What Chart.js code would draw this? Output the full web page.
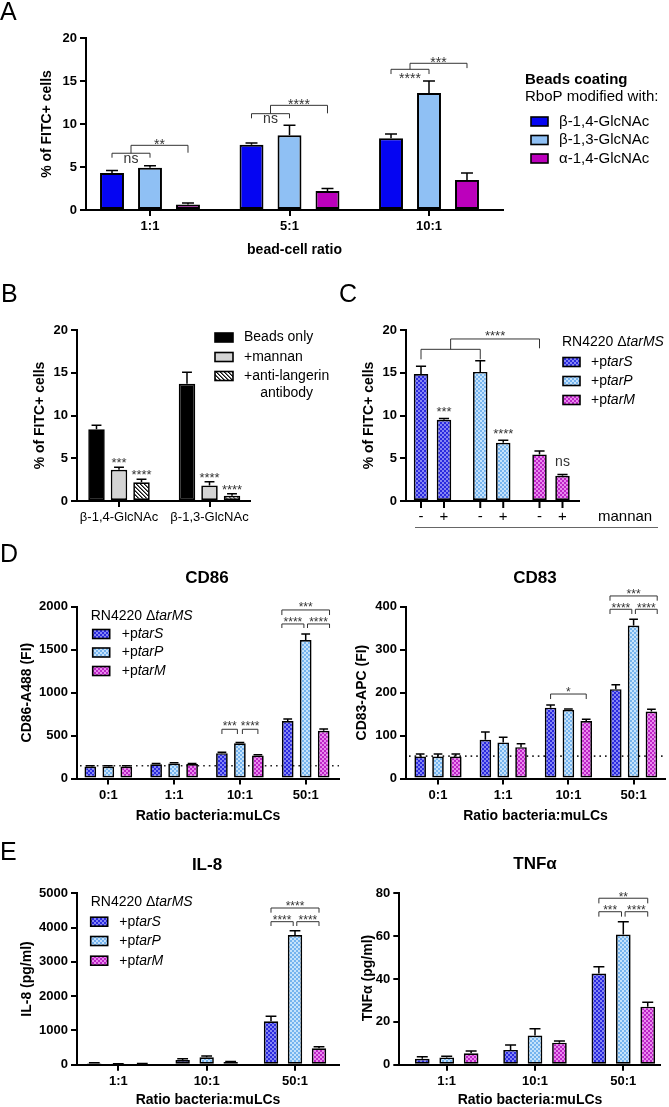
<!DOCTYPE html>
<html><head><meta charset="utf-8">
<script src="https://cdn.jsdelivr.net/npm/chart.js@4.4.1/dist/chart.umd.min.js"></script>
<style>
html,body{margin:0;padding:0;background:#fff;}
#page{position:relative;width:669px;height:1107px;overflow:hidden;background:#fff;}
#page canvas{position:absolute;left:0;top:0;}
</style></head><body><div id="page"></div>
<script>
// ================= DATA =================
// Panel A
const A_ratios = ['1:1', '5:1', '10:1'];
const A_beta14 = [4.3, 7.6, 8.35];
const A_beta14_err = [0.3, 0.2, 0.5];
const A_beta13 = [4.9, 8.7, 13.6];
const A_beta13_err = [0.25, 1.15, 1.4];
const A_alpha14 = [0.65, 2.2, 3.5];
const A_alpha14_err = [0.15, 0.3, 0.8];
const A_legend = ['β-1,4-GlcNAc', 'β-1,3-GlcNAc', 'α-1,4-GlcNAc'];

// Panel B
const B_coatings = ['β-1,4-GlcNAc', 'β-1,3-GlcNAc'];
const B_beadsOnly = [8.4, 13.7];
const B_beadsOnly_err = [0.45, 1.35];
const B_mannan = [3.65, 1.8];
const B_mannan_err = [0.3, 0.45];
const B_antiLangerin = [2.2, 0.6];
const B_antiLangerin_err = [0.35, 0.25];
const B_stars = [['***', '****'], ['****', '****']]; // [group][mannan, anti-langerin]

// Panel C
const C_strains = ['tarS', 'tarP', 'tarM'];
const C_noMannan = [14.85, 15.1, 5.45];
const C_noMannan_err = [0.9, 1.3, 0.4];
const C_withMannan = [9.5, 6.8, 2.95];
const C_withMannan_err = [0.15, 0.3, 0.15];
const C_withMannan_sig = ['***', '****', 'ns'];
const C_mannanLabels = ['-', '+'];

// Panel D
const D_ratios = ['0:1', '1:1', '10:1', '50:1'];
const CD86_tarS = [140, 165, 295, 670];
const CD86_tarS_err = [8, 10, 10, 22];
const CD86_tarP = [140, 175, 410, 1612];
const CD86_tarP_err = [8, 8, 10, 70];
const CD86_tarM = [140, 168, 268, 555];
const CD86_tarM_err = [8, 8, 8, 20];
const CD86_baseline = 148;

const CD83_tarS = [51, 90, 165, 208];
const CD83_tarS_err = [6, 18, 6, 10];
const CD83_tarP = [51, 84, 160, 356];
const CD83_tarP_err = [6, 12, 2, 15];
const CD83_tarM = [51, 73, 134, 156];
const CD83_tarM_err = [6, 8, 4, 5];
const CD83_baseline = 52;

// Panel E
const E_ratios = ['1:1', '10:1', '50:1'];
const IL8_tarS = [40, 137, 1266];
const IL8_tarS_err = [20, 38, 150];
const IL8_tarP = [15, 216, 3784];
const IL8_tarP_err = [10, 38, 125];
const IL8_tarM = [25, 79, 478];
const IL8_tarM_err = [10, 15, 47];

const TNF_tarS = [2.8, 6.9, 42.6];
const TNF_tarS_err = [0.9, 2.3, 3.1];
const TNF_tarP = [3.4, 13.6, 60.8];
const TNF_tarP_err = [0.6, 3.2, 5.9];
const TNF_tarM = [5.3, 10.3, 27.1];
const TNF_tarM_err = [1.1, 0.8, 2.0];

// ================= RENDERING =================
const W = 669, H = 1107;
const FONT = "'Liberation Sans', Arial, sans-serif";
Chart.defaults.font.family = FONT;
Chart.defaults.color = '#000';
Chart.defaults.animation = false;
Chart.defaults.plugins.legend.display = false;
Chart.defaults.plugins.tooltip.enabled = false;

function makePatterns(ctx) {
  function checker(c1, c2) {
    const t = document.createElement('canvas'); t.width = 4; t.height = 4;
    const g = t.getContext('2d');
    g.fillStyle = c1; g.fillRect(0, 0, 4, 4);
    g.fillStyle = c2; g.fillRect(0, 0, 2, 2); g.fillRect(2, 2, 2, 2);
    return ctx.createPattern(t, 'repeat');
  }
  function hatch() {
    const s = 4;
    const t = document.createElement('canvas'); t.width = s; t.height = s;
    const g = t.getContext('2d');
    g.fillStyle = '#fff'; g.fillRect(0, 0, s, s);
    g.fillStyle = '#111';
    for (let i = 0; i < s; i++) { g.fillRect(i, i, 1, 1); g.fillRect((i + 1) % s, i, 0.6, 1); }
    return ctx.createPattern(t, 'repeat');
  }
  return {
    S: checker('#2a2ade', '#8585f3'),
    P: checker('#76b4ee', '#c6e3fb'),
    M: checker('#bd25c6', '#e98aee'),
    H: hatch()
  };
}

function txt(ctx, s, x, y, o = {}) {
  ctx.save();
  ctx.font = `${o.style || 'normal'} ${o.weight || 'normal'} ${o.size || 14}px ${FONT}`;
  ctx.fillStyle = o.color || '#000';
  ctx.textAlign = o.align || 'left';
  ctx.textBaseline = o.baseline || 'middle';
  ctx.fillText(s, x, y);
  ctx.restore();
}
function vtxt(ctx, s, cx, cy, size) {
  ctx.save();
  ctx.translate(cx, cy); ctx.rotate(-Math.PI / 2);
  ctx.font = `bold ${size}px ${FONT}`;
  ctx.fillStyle = '#000'; ctx.textAlign = 'center'; ctx.textBaseline = 'middle';
  ctx.fillText(s, 0, 0);
  ctx.restore();
}
function rich(ctx, parts, x, y, size) {
  ctx.save();
  let cx = x;
  ctx.textAlign = 'left'; ctx.textBaseline = 'middle'; ctx.fillStyle = '#000';
  parts.forEach(([t, it]) => {
    ctx.font = `${it ? 'italic ' : 'normal '}normal ${size}px ${FONT}`;
    ctx.fillText(t, cx, y);
    cx += ctx.measureText(t).width;
  });
  ctx.restore();
}
function starText(ctx, s, cx, cy, size) {
  if (!s) return;
  ctx.save();
  ctx.fillStyle = '#333';
  ctx.textAlign = 'center';
  if (s === 'ns') {
    ctx.font = `14px ${FONT}`; ctx.textBaseline = 'middle';
    ctx.fillText(s, cx, cy);
  } else {
    ctx.font = `${size}px ${FONT}`; ctx.textBaseline = 'alphabetic';
    ctx.fillText(s, cx, cy + 0.57 * size);
  }
  ctx.restore();
}
function swatch(ctx, fill, x, cy, w, h) {
  ctx.save();
  ctx.fillStyle = fill; ctx.fillRect(x, cy - h / 2, w, h);
  ctx.strokeStyle = '#000'; ctx.lineWidth = 1.6; ctx.strokeRect(x, cy - h / 2, w, h);
  ctx.restore();
}
function strainLegend(ctx, pats, x, headY, rows, swX, textX) {
  rich(ctx, [['RN4220 Δ', false], ['tarMS', true]], x, headY, 14);
  const fills = [pats.S, pats.P, pats.M];
  ['tarS', 'tarP', 'tarM'].forEach((s, i) => {
    swatch(ctx, fills[i], swX, rows[i], 17, 9);
    rich(ctx, [['+p', false], [s, true]], textX, rows[i], 14);
  });
}
function barX(chart, ds, g) { return chart.getDatasetMeta(ds).data[g].x; }
function barHalf(chart, ds, g) { return chart.getDatasetMeta(ds).data[g].width / 2; }

// bracket endpoint: number = dataset index in bracket's group; {ds,g,dx,edge}; {mid:k}
function drawBrackets(chart, list, starSize) {
  const ctx = chart.ctx, ys = chart.scales.y;
  const xs = [];
  const endX = (e, g) => {
    if (typeof e === 'number') return barX(chart, e, g);
    if (e.mid !== undefined) return (xs[e.mid][0] + xs[e.mid][1]) / 2;
    const gg = e.g !== undefined ? e.g : g;
    return barX(chart, e.ds, gg) + (e.dx || 0) + (e.edge || 0) * barHalf(chart, e.ds, gg);
  };
  list.forEach((b, k) => {
    const x1 = endX(b.a, b.g), x2 = endX(b.b, b.g);
    xs[k] = [x1, x2];
    const yy = ys.getPixelForValue(b.y);
    const l1 = ys.getPixelForValue(b.la), l2 = ys.getPixelForValue(b.lb);
    ctx.save();
    ctx.strokeStyle = '#333'; ctx.lineWidth = 1;
    ctx.beginPath();
    ctx.moveTo(x1, l1); ctx.lineTo(x1, yy); ctx.lineTo(x2, yy); ctx.lineTo(x2, l2);
    ctx.stroke();
    ctx.restore();
    starText(ctx, b.text, (x1 + x2) / 2, yy + b.off, starSize);
  });
}
// three-bar comparison set (tarS-tarP, tarP-tarM, tarS-tarM); edge: 0 = bar centres, 1 = outer bar edges
function tripleBrackets(g, yTop, legTop, yLow, legLow, texts, offTop, offLow, edge) {
  const L = { ds: 0, edge: -edge }, R = { ds: 2, edge: edge };
  return [
    { g, a: L, b: { ds: 1, dx: -1.8 }, y: yLow, la: legLow, lb: legLow, text: texts[0], off: offLow },
    { g, a: { ds: 1, dx: 1.8 }, b: R, y: yLow, la: legLow, lb: legLow, text: texts[1], off: offLow },
    { g, a: L, b: R, y: yTop, la: legTop, lb: legTop, text: texts[2], off: offTop }
  ];
}

function drawErrors(chart, capRatio) {
  const ctx = chart.ctx, ys = chart.scales.y;
  chart.data.datasets.forEach((ds, di) => {
    if (!ds.err) return;
    chart.getDatasetMeta(di).data.forEach((bar, i) => {
      const top = ys.getPixelForValue(ds.data[i].y + ds.err[i]);
      const cap = bar.width * capRatio;
      ctx.save();
      ctx.strokeStyle = '#000'; ctx.lineWidth = 1.5;
      ctx.beginPath();
      ctx.moveTo(bar.x, bar.y); ctx.lineTo(bar.x, top);
      ctx.moveTo(bar.x - cap / 2, top); ctx.lineTo(bar.x + cap / 2, top);
      ctx.stroke();
      ctx.restore();
    });
  });
}

function dotted(chart, value) {
  const ctx = chart.ctx, a = chart.chartArea;
  const y = chart.scales.y.getPixelForValue(value);
  ctx.save();
  ctx.strokeStyle = '#222'; ctx.lineWidth = 1.6; ctx.setLineDash([1.6, 4]);
  ctx.beginPath(); ctx.moveTo(a.left + 3, y); ctx.lineTo(a.right, y); ctx.stroke();
  ctx.restore();
}

function makeChart(spec) {
  const cv = document.createElement('canvas');
  cv.width = W; cv.height = H;
  cv.style.width = W + 'px'; cv.style.height = H + 'px';
  document.getElementById('page').appendChild(cv);
  const ctx = cv.getContext('2d');
  const pats = makePatterns(ctx);
  const n = spec.labels.length;
  const xmin = (spec.axisX - spec.firstCenter) / spec.pitch;
  const xmax = (n - 1) + (spec.xEnd - (spec.firstCenter + (n - 1) * spec.pitch)) / spec.pitch;
  const YW = 50, XH = 40;
  const datasets = spec.series.map(s => ({
    data: s.values.map((v, i) => ({ x: i, y: v })),
    err: s.err,
    backgroundColor: typeof s.fill === 'function' ? s.fill(pats) : s.fill,
    borderColor: '#000', borderWidth: spec.borderWidth || 1.7, borderSkipped: false,
    categoryPercentage: spec.catPct, barPercentage: spec.barPct
  }));
  const showX = spec.xTicks !== false;
  return new Chart(ctx, {
    type: 'bar',
    data: { datasets },
    options: {
      responsive: false, devicePixelRatio: 1, animation: false,
      layout: { padding: { left: spec.axisX - YW, top: spec.topY, right: W - spec.xEnd, bottom: H - spec.zeroY - XH } },
      scales: {
        x: {
          type: 'linear', min: xmin, max: xmax, offset: false,
          afterFit: s => { s.height = XH; },
          afterBuildTicks: s => { s.ticks = spec.labels.map((_, i) => ({ value: i })); },
          grid: { display: showX, drawOnChartArea: false, drawTicks: true, tickLength: 6, color: '#000', lineWidth: 2, offset: false },
          border: { display: true, color: '#000', width: 2 },
          ticks: { display: showX, autoSkip: false, maxRotation: 0, minRotation: 0, padding: 3, color: '#000',
            font: spec.xTickFont || { size: 13, weight: 'bold' },
            callback: v => { const k = Math.round(v); return spec.labels[k] !== undefined ? spec.labels[k] : ''; } }
        },
        y: {
          type: 'linear', min: 0, max: spec.yMax,
          afterFit: s => { s.width = YW; },
          ticks: { stepSize: spec.yStep, padding: 3, color: '#000', font: { size: 13, weight: 'bold' }, callback: v => String(v) },
          grid: { display: true, drawOnChartArea: false, drawTicks: true, tickLength: 6, color: '#000', lineWidth: 2 },
          border: { display: true, color: '#000', width: 2 }
        }
      }
    },
    plugins: [{
      id: 'extras',
      beforeDatasetsDraw(chart) { if (spec.under) spec.under(chart, chart.ctx, pats); },
      afterDatasetsDraw(chart) { drawErrors(chart, spec.capRatio || 0.7); },
      afterDraw(chart) { if (spec.draw) spec.draw(chart, chart.ctx, pats); }
    }]
  });
}

const strainFills = [p => p.S, p => p.P, p => p.M];

// ---------- Panel A ----------
makeChart({
  axisX: 86, topY: 38, zeroY: 210, xEnd: 503, firstCenter: 150, pitch: 139.5,
  labels: A_ratios, yMax: 20, yStep: 5, catPct: 0.817, barPct: 0.63, capRatio: 0.5, borderWidth: 2,
  series: [
    { values: A_beta14, err: A_beta14_err, fill: '#0505f2' },
    { values: A_beta13, err: A_beta13_err, fill: '#8fc0f4' },
    { values: A_alpha14, err: A_alpha14_err, fill: '#bc00bc' }
  ],
  draw(chart, ctx) {
    txt(ctx, 'A', 0, 20, { size: 25, baseline: 'alphabetic' });
    vtxt(ctx, '% of FITC+ cells', 47, 124, 14);
    txt(ctx, 'bead-cell ratio', 294.5, 250, { weight: 'bold', align: 'center' });
    txt(ctx, 'Beads coating', 525, 80, { weight: 'bold', size: 15 });
    txt(ctx, 'RboP modified with:', 525, 97, { size: 15 });
    const fills = ['#0505f2', '#8fc0f4', '#bc00bc'];
    [121.5, 140, 158.5].forEach((y, i) => {
      swatch(ctx, fills[i], 531, y, 17, 9);
      txt(ctx, A_legend[i], 559, y, { size: 15 });
    });
    drawBrackets(chart, [
      { g: 0, a: 0, b: 1, y: 6.6, la: 6.08, lb: 6.08, text: 'ns', off: 5.5 },
      { g: 0, a: { mid: 0 }, b: 2, y: 7.52, la: 6.6, lb: 6.66, text: '**', off: -4.5 },
      { g: 1, a: 0, b: 1, y: 11.2, la: 10.66, lb: 10.66, text: 'ns', off: 5.5 },
      { g: 1, a: { mid: 2 }, b: 2, y: 12.17, la: 11.2, lb: 11.24, text: '****', off: -4.5 },
      { g: 2, a: 0, b: 1, y: 16.36, la: 15.81, lb: 15.81, text: '****', off: 5.7 },
      { g: 2, a: { mid: 4 }, b: 2, y: 17.06, la: 16.36, lb: 16.5, text: '***', off: -4.5 }
    ], 14);
  }
});

// ---------- Panel B ----------
makeChart({
  axisX: 77, topY: 330, zeroY: 501, xEnd: 250, firstCenter: 119, pitch: 90.5,
  labels: B_coatings, yMax: 20, yStep: 5, catPct: 0.746, barPct: 0.733, capRatio: 0.6,
  xTickFont: { size: 13, weight: 'normal' },
  series: [
    { values: B_beadsOnly, err: B_beadsOnly_err, fill: '#000' },
    { values: B_mannan, err: B_mannan_err, fill: '#d4d4d4' },
    { values: B_antiLangerin, err: B_antiLangerin_err, fill: p => p.H }
  ],
  draw(chart, ctx, pats) {
    txt(ctx, 'B', 1, 302, { size: 25, baseline: 'alphabetic' });
    vtxt(ctx, '% of FITC+ cells', 40, 415.5, 14);
    swatch(ctx, '#000', 215, 337.5, 18, 9);
    swatch(ctx, '#d4d4d4', 215, 357, 18, 9);
    swatch(ctx, pats.H, 215, 376, 18, 9);
    txt(ctx, 'Beads only', 244, 337.5);
    txt(ctx, '+mannan', 244, 357);
    txt(ctx, '+anti-langerin', 244, 376);
    txt(ctx, 'antibody', 286.6, 393, { align: 'center' });
    const ys = chart.scales.y;
    const sets = [[B_mannan, B_mannan_err], [B_antiLangerin, B_antiLangerin_err]];
    for (let g = 0; g < 2; g++) {
      sets.forEach((s, k) => {
        const x = barX(chart, k + 1, g);
        const top = ys.getPixelForValue(s[0][g] + s[1][g]);
        starText(ctx, B_stars[g][k], x, top - 7.5, 13);
      });
    }
  }
});

// ---------- Panel C ----------
makeChart({
  axisX: 406, topY: 330, zeroY: 501, xEnd: 579, firstCenter: 432.5, pitch: 59.25,
  labels: C_strains, yMax: 20, yStep: 5, catPct: 0.776, barPct: 0.63, capRatio: 0.7, xTicks: false,
  series: [
    { values: C_noMannan, err: C_noMannan_err, fill: p => [p.S, p.P, p.M] },
    { values: C_withMannan, err: C_withMannan_err, fill: p => [p.S, p.P, p.M] }
  ],
  draw(chart, ctx, pats) {
    txt(ctx, 'C', 339, 302, { size: 25, baseline: 'alphabetic' });
    vtxt(ctx, '% of FITC+ cells', 369, 415.5, 14);
    const zero = chart.chartArea.bottom;
    for (let d = 0; d < 2; d++) {
      chart.getDatasetMeta(d).data.forEach(bar => {
        ctx.save(); ctx.strokeStyle = '#000'; ctx.lineWidth = 2;
        ctx.beginPath(); ctx.moveTo(bar.x, zero); ctx.lineTo(bar.x, zero + 7); ctx.stroke(); ctx.restore();
        txt(ctx, C_mannanLabels[d], bar.x, 517, { size: 15, align: 'center' });
      });
    }
    txt(ctx, 'mannan', 598, 517, { size: 15 });
    ctx.save(); ctx.strokeStyle = '#666'; ctx.lineWidth = 1;
    ctx.beginPath(); ctx.moveTo(415, 527.5); ctx.lineTo(658, 527.5); ctx.stroke(); ctx.restore();
    strainLegend(ctx, pats, 562, 342, [362, 381, 400], 563, 591);
    const ys = chart.scales.y;
    C_withMannan_sig.forEach((s, g) => {
      const x = barX(chart, 1, g);
      const top = ys.getPixelForValue(C_withMannan[g] + C_withMannan_err[g]);
      starText(ctx, s, x, top - (s === 'ns' ? 12 : 10), 13);
    });
    drawBrackets(chart, [
      { g: 0, a: { ds: 0, g: 0 }, b: { ds: 0, g: 1 }, y: 17.74, la: 16.57, lb: 16.57, text: '', off: 0 },
      { g: 0, a: { mid: 0 }, b: { ds: 0, g: 2 }, y: 18.95, la: 17.74, lb: 17.86, text: '****', off: -6.5 }
    ], 13);
  }
});

// ---------- Panel D (CD86) ----------
makeChart({
  axisX: 77, topY: 606.7, zeroY: 778.5, xEnd: 339, firstCenter: 108.3, pitch: 65.8,
  labels: D_ratios, yMax: 2000, yStep: 500, catPct: 0.82, barPct: 0.65, capRatio: 0.75,
  series: [
    { values: CD86_tarS, err: CD86_tarS_err, fill: strainFills[0] },
    { values: CD86_tarP, err: CD86_tarP_err, fill: strainFills[1] },
    { values: CD86_tarM, err: CD86_tarM_err, fill: strainFills[2] }
  ],
  under(chart) { dotted(chart, CD86_baseline); },
  draw(chart, ctx, pats) {
    txt(ctx, 'D', 0, 562, { size: 25, baseline: 'alphabetic' });
    txt(ctx, 'CD86', 207, 578, { size: 17, weight: 'bold', align: 'center' });
    vtxt(ctx, 'CD86-A488 (FI)', 27, 692.6, 14);
    txt(ctx, 'Ratio bacteria:muLCs', 208, 816, { weight: 'bold', align: 'center' });
    strainLegend(ctx, pats, 90.7, 616, [634, 652.5, 671], 92.7, 121.7);
    drawBrackets(chart, [
      { g: 2, a: 0, b: { ds: 1, dx: -2.5 }, y: 573, la: 518, lb: 518, text: '***', off: -6 },
      { g: 2, a: { ds: 1, dx: 2.5 }, b: 2, y: 573, la: 518, lb: 518, text: '****', off: -6 }
    ].concat(tripleBrackets(3, 1962, 1903, 1799, 1752, ['****', '****', '***'], -6, -5, 1)), 12);
  }
});

// ---------- Panel D (CD83) ----------
makeChart({
  axisX: 406, topY: 606.7, zeroY: 778.5, xEnd: 665, firstCenter: 438, pitch: 65.2,
  labels: D_ratios, yMax: 400, yStep: 100, catPct: 0.82, barPct: 0.65, capRatio: 0.75,
  series: [
    { values: CD83_tarS, err: CD83_tarS_err, fill: strainFills[0] },
    { values: CD83_tarP, err: CD83_tarP_err, fill: strainFills[1] },
    { values: CD83_tarM, err: CD83_tarM_err, fill: strainFills[2] }
  ],
  under(chart) { dotted(chart, CD83_baseline); },
  draw(chart, ctx) {
    txt(ctx, 'CD83', 535, 578, { size: 17, weight: 'bold', align: 'center' });
    vtxt(ctx, 'CD83-APC (FI)', 362, 692.6, 14);
    txt(ctx, 'Ratio bacteria:muLCs', 535.5, 816, { weight: 'bold', align: 'center' });
    drawBrackets(chart, [
      { g: 2, a: 0, b: 2, y: 196.7, la: 185, lb: 185, text: '*', off: -5 }
    ].concat(tripleBrackets(3, 425, 414, 394, 383, ['****', '****', '***'], -4.5, -3.8, 1)), 12);
  }
});

// ---------- Panel E (IL-8) ----------
makeChart({
  axisX: 77, topY: 893.3, zeroY: 1064.7, xEnd: 339, firstCenter: 118.3, pitch: 88.35,
  labels: E_ratios, yMax: 5000, yStep: 1000, catPct: 0.815, barPct: 0.6, capRatio: 0.75,
  series: [
    { values: IL8_tarS, err: IL8_tarS_err, fill: strainFills[0] },
    { values: IL8_tarP, err: IL8_tarP_err, fill: strainFills[1] },
    { values: IL8_tarM, err: IL8_tarM_err, fill: strainFills[2] }
  ],
  draw(chart, ctx, pats) {
    txt(ctx, 'E', 0, 860, { size: 25, baseline: 'alphabetic' });
    txt(ctx, 'IL-8', 207, 865, { size: 17, weight: 'bold', align: 'center' });
    vtxt(ctx, 'IL-8 (pg/ml)', 27, 979, 14);
    txt(ctx, 'Ratio bacteria:muLCs', 208, 1100, { weight: 'bold', align: 'center' });
    strainLegend(ctx, pats, 90.7, 902.3, [921.7, 941, 960.7], 90.7, 119.3);
    drawBrackets(chart, tripleBrackets(2, 4571, 4434, 4172, 4046, ['****', '****', '****'], -4.7, -5, 0), 12);
  }
});

// ---------- Panel E (TNFα) ----------
makeChart({
  axisX: 399.3, topY: 893.3, zeroY: 1064.7, xEnd: 660, firstCenter: 446.7, pitch: 88.3,
  labels: E_ratios, yMax: 80, yStep: 20, catPct: 0.83, barPct: 0.6, capRatio: 0.75,
  series: [
    { values: TNF_tarS, err: TNF_tarS_err, fill: strainFills[0] },
    { values: TNF_tarP, err: TNF_tarP_err, fill: strainFills[1] },
    { values: TNF_tarM, err: TNF_tarM_err, fill: strainFills[2] }
  ],
  draw(chart, ctx) {
    txt(ctx, 'TNFα', 535, 864.3, { size: 17, weight: 'bold', align: 'center' });
    vtxt(ctx, 'TNFα (pg/ml)', 368, 978, 14);
    txt(ctx, 'Ratio bacteria:muLCs', 530, 1100, { weight: 'bold', align: 'center' });
    drawBrackets(chart, tripleBrackets(2, 77.7, 75.3, 71.4, 69.1, ['***', '****', '**'], -4.3, -4.4, 0), 12);
  }
});
</script>
</body></html>
